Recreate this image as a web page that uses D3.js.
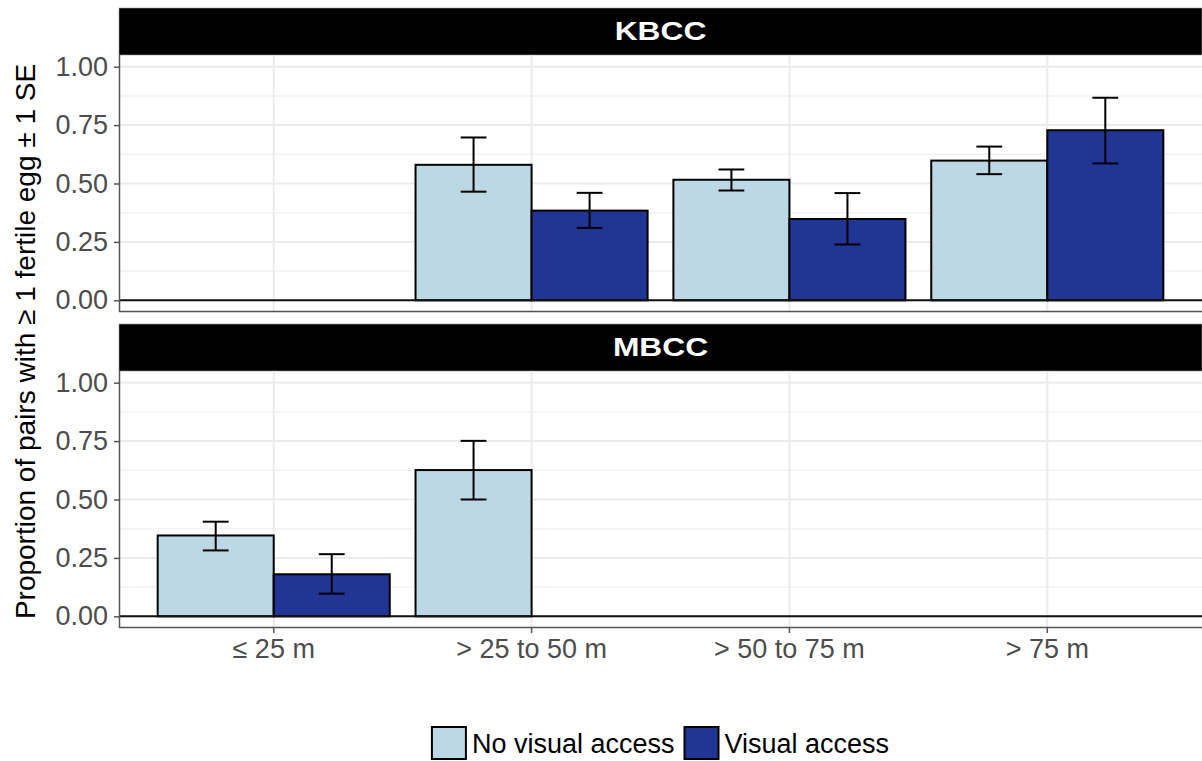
<!DOCTYPE html>
<html>
<head>
<meta charset="utf-8">
<script src="https://cdn.jsdelivr.net/npm/d3@7"></script>
<style>
  body { margin: 0; background: #fff; }
  svg { display: block; font-family: "Liberation Sans", Arial, Helvetica, sans-serif; }
</style>
</head>
<body>
<svg id="chart"></svg>
<script>
// ---------------------------------------------
// DATA
// ---------------------------------------------
var distances = ["≤ 25 m", "> 25 to 50 m", "> 50 to 75 m", "> 75 m"];
var sites = ["KBCC", "MBCC"];
var groups = ["No visual access", "Visual access"];
var yTicks = [0, 0.25, 0.5, 0.75, 1];
var yTickLabels = ["0.00", "0.25", "0.50", "0.75", "1.00"];

// proportion, lower and upper (± 1 SE); null = no data
var kbccNoVis      = [null, 0.58, 0.516, 0.598];
var kbccNoVisLo    = [null, 0.465, 0.47, 0.54];
var kbccNoVisHi    = [null, 0.697, 0.56, 0.658];
var kbccVis        = [null, 0.384, 0.348, 0.728];
var kbccVisLo      = [null, 0.31, 0.239, 0.586];
var kbccVisHi      = [null, 0.46, 0.459, 0.867];

var mbccNoVis      = [0.346, 0.626, null, null];
var mbccNoVisLo    = [0.282, 0.50, null, null];
var mbccNoVisHi    = [0.405, 0.751, null, null];
var mbccVis        = [0.18, null, null, null];
var mbccVisLo      = [0.097, null, null, null];
var mbccVisHi      = [0.266, null, null, null];

// ---------------------------------------------
// SETUP
// ---------------------------------------------
var width = 1202, height = 761;
var svg = d3.select("#chart").attr("width", width).attr("height", height);

var colors = d3.scaleOrdinal().domain(groups).range(["#bcd8e5", "#213594"]);

var left = 119, right = 1202;
var stripH = 47, panelH = 257;
var panelTops = [55, 371];

// ggplot-like discrete scale: first/last centre sit 0.6 step from the edges
var x = d3.scaleBand().domain(distances).range([left, right]).paddingInner(0).paddingOuter(0.1);
var step = x.step();
var cx = function(d) { return x(d) + step / 2; };
var barW = 0.45 * step;
var capW = 0.1 * step;

function makeRows(v, lo, hi) {
  return distances.map(function(d, i) { return {dist: d, v: v[i], lo: lo[i], hi: hi[i]}; })
                  .filter(function(r) { return r.v !== null; });
}
var panels = [
  {site: sites[0], series: [makeRows(kbccNoVis, kbccNoVisLo, kbccNoVisHi), makeRows(kbccVis, kbccVisLo, kbccVisHi)]},
  {site: sites[1], series: [makeRows(mbccNoVis, mbccNoVisLo, mbccNoVisHi), makeRows(mbccVis, mbccVisLo, mbccVisHi)]}
];

panels.forEach(function(p, pi) {
  var top = panelTops[pi], bottom = top + panelH;
  var y = d3.scaleLinear().domain([-0.05, 1.05]).range([bottom, top]);
  var g = svg.append("g");

  // strip
  g.append("rect").attr("x", left).attr("y", top - stripH).attr("width", right - left).attr("height", stripH)
    .attr("fill", "#000").attr("stroke", "#999").attr("stroke-width", 0.6);
  g.append("text").attr("x", (left + right) / 2).attr("y", top - stripH / 2)
    .attr("dy", "0.36em").attr("text-anchor", "middle")
    .attr("transform", "translate(" + ((left + right) / 2) + ",0) scale(1.27,1) translate(" + (-(left + right) / 2) + ",0)")
    .attr("fill", "#fff").attr("font-weight", "bold").attr("font-size", 25).text(p.site);

  // grid
  var minor = [0.125, 0.375, 0.625, 0.875];
  g.selectAll(".minor").data(minor).enter().append("line")
    .attr("x1", left).attr("x2", right).attr("y1", y).attr("y2", y)
    .attr("stroke", "#f2f2f2").attr("stroke-width", 1.5);
  g.selectAll(".major").data(yTicks).enter().append("line")
    .attr("x1", left).attr("x2", right).attr("y1", y).attr("y2", y)
    .attr("stroke", "#ebebeb").attr("stroke-width", 2);
  g.selectAll(".vgrid").data(distances).enter().append("line")
    .attr("x1", cx).attr("x2", cx).attr("y1", top).attr("y2", bottom)
    .attr("stroke", "#ebebeb").attr("stroke-width", 2);

  // bars
  p.series.forEach(function(rows, gi) {
    var off = gi === 0 ? -barW : 0;
    g.selectAll(".bar" + gi).data(rows).enter().append("rect")
      .attr("x", function(d) { return cx(d.dist) + off; })
      .attr("y", function(d) { return y(d.v); })
      .attr("width", barW)
      .attr("height", function(d) { return y(0) - y(d.v); })
      .attr("fill", colors(groups[gi])).attr("stroke", "#000").attr("stroke-width", 2);
  });

  // zero line
  g.append("line").attr("x1", left).attr("x2", right).attr("y1", y(0)).attr("y2", y(0))
    .attr("stroke", "#111").attr("stroke-width", 2);

  // error bars
  p.series.forEach(function(rows, gi) {
    var off = gi === 0 ? -barW / 2 : barW / 2;
    var eb = g.selectAll(".eb" + gi).data(rows).enter().append("g")
      .attr("stroke", "#000").attr("stroke-width", 2);
    eb.append("line").attr("x1", function(d) { return cx(d.dist) + off; }).attr("x2", function(d) { return cx(d.dist) + off; })
      .attr("y1", function(d) { return y(d.lo); }).attr("y2", function(d) { return y(d.hi); });
    eb.append("line").attr("x1", function(d) { return cx(d.dist) + off - capW / 2; }).attr("x2", function(d) { return cx(d.dist) + off + capW / 2; })
      .attr("y1", function(d) { return y(d.hi); }).attr("y2", function(d) { return y(d.hi); });
    eb.append("line").attr("x1", function(d) { return cx(d.dist) + off - capW / 2; }).attr("x2", function(d) { return cx(d.dist) + off + capW / 2; })
      .attr("y1", function(d) { return y(d.lo); }).attr("y2", function(d) { return y(d.lo); });
  });

  // y axis
  var yAxis = d3.axisLeft(y).tickValues(yTicks).tickSize(5).tickPadding(6)
    .tickFormat(function(d, i) { return yTickLabels[i]; });
  var ya = g.append("g").attr("transform", "translate(" + left + ",0)").call(yAxis);
  ya.select(".domain").attr("stroke", "#555").attr("stroke-width", 1.5).attr("d", "M0.5," + top + "V" + bottom);
  ya.selectAll(".tick line").attr("stroke", "#555").attr("stroke-width", 1.5);
  ya.selectAll(".tick text").attr("fill", "#4d4d4d").attr("font-size", 27)
    .attr("font-family", "'Liberation Sans', Arial, sans-serif");

  // bottom axis line
  g.append("line").attr("x1", left).attr("x2", right).attr("y1", bottom - 0.5).attr("y2", bottom - 0.5)
    .attr("stroke", "#555").attr("stroke-width", 1.5);

  if (pi === 1) {
    var xa = g.append("g").attr("transform", "translate(0," + bottom + ")")
      .call(d3.axisBottom(x).tickSize(5).tickPadding(6));
    xa.select(".domain").remove();
    xa.selectAll(".tick line").attr("stroke", "#555").attr("stroke-width", 1.5);
    xa.selectAll(".tick text").attr("fill", "#4d4d4d").attr("font-size", 27)
      .attr("font-family", "'Liberation Sans', Arial, sans-serif");
  }
});

// y axis title
svg.append("text")
  .attr("transform", "translate(35," + ((panelTops[0] + panelTops[1] + panelH) / 2) + ") rotate(-90)")
  .attr("text-anchor", "middle").attr("font-size", 28).attr("fill", "#000")
  .text("Proportion of pairs with ≥ 1 fertile egg ± 1 SE");

// legend
var leg = svg.append("g");
var boxW = 34, boxH = 32, legY = 727;
var items = leg.selectAll(".item").data(groups).enter().append("g");
items.append("rect").attr("width", boxW).attr("height", boxH)
  .attr("fill", function(d) { return colors(d); }).attr("stroke", "#000").attr("stroke-width", 2);
items.append("text").attr("x", boxW + 6).attr("y", boxH / 2).attr("dy", "0.36em")
  .attr("font-size", 27).attr("fill", "#000").text(function(d) { return d; });
var xs = [], cur = 0;
items.each(function() {
  xs.push(cur);
  cur += boxW + 6 + this.querySelector("text").getComputedTextLength() + 10;
});
var total = cur - 10;
var start = (left + right) / 2 - total / 2;
items.attr("transform", function(d, i) { return "translate(" + (start + xs[i]) + "," + legY + ")"; });
</script>
</body>
</html>
